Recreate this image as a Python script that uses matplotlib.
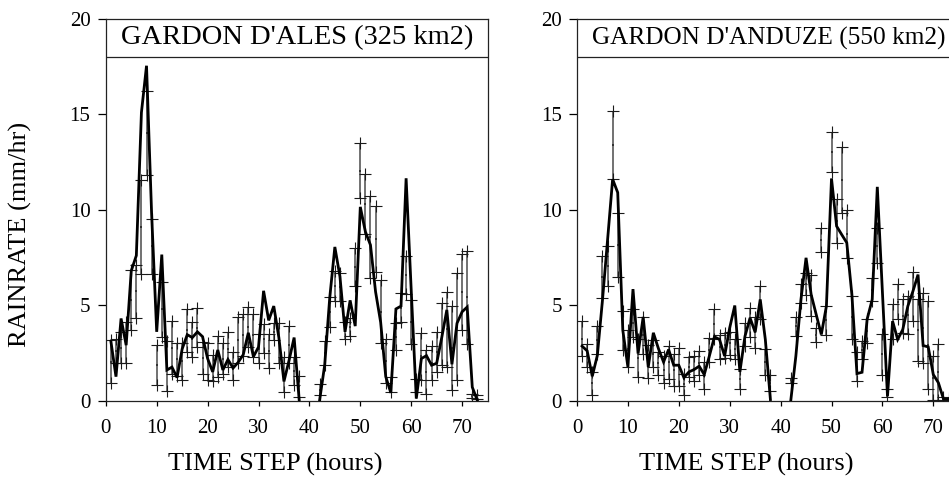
import numpy as np
import matplotlib
matplotlib.use("Agg")
import matplotlib.pyplot as plt

plt.rcParams['font.family'] = ['Liberation Serif', 'DejaVu Serif']

nan = np.nan
hours = np.arange(1, 74)

ales_title = "GARDON D'ALES (325 km2)"
anduze_title = "GARDON D'ANDUZE (550 km2)"
xlabel = "TIME STEP (hours)"
ylabel = "RAINRATE (mm/hr)"
xticks = [0, 10, 20, 30, 40, 50, 60, 70]
yticks = [0, 5, 10, 15, 20]

ales_rate = [3.1, 1.25, 4.3, 2.9, 6.8, 7.6, 15.1, 17.55, 9.8, 3.6,
             7.65, 1.6, 1.75, 1.2, 2.7, 3.45, 3.3, 3.6, 3.35, 2.2,
             1.5, 2.65, 1.6, 2.15, 1.7, 2.0, 2.4, 3.55, 2.3, 2.8,
             5.75, 4.2, 4.95, 3.3, 1.0, 2.1, 3.3, 0.0, nan, nan,
             nan, 0.0, 1.85, 5.4, 8.05, 6.5, 3.6, 5.25, 3.9, 10.15,
             8.85, 8.15, 5.7, 4.1, 1.25, 0.4, 4.8, 4.95, 11.65, 5.8,
             0.1, 2.2, 2.35, 1.85, 1.95, 3.3, 4.75, 1.9, 4.05, 4.65,
             4.9, 0.7, 0.0]
ales_low = [0.9, 1.95, 1.95, 1.95, 3.7, 4.35, 6.65, 11.8, 6.65, 0.8,
            3.35, 0.5, 1.4, 1.3, 1.1, 2.55, 2.3, 2.8, 1.4, 1.1,
            1.0, 1.25, 1.4, 1.75, 1.1, 1.95, 2.35, 2.8, 2.3, 1.95,
            2.5, 1.7, 3.15, 1.95, 0.45, 1.95, 0.8, 0.2, nan, nan,
            nan, 0.3, 1.85, 3.85, 5.2, 5.2, 3.2, 3.4, 6.0, 10.6,
            8.75, 6.4, 6.75, 3.0, 0.9, 0.45, 2.65, 4.1, 5.6, 2.95,
            0.45, 1.1, 0.35, 1.05, 1.5, 1.85, 1.75, 0.55, 1.05, 3.7,
            2.95, 0.15, 0.1]
ales_high = [3.15, 3.25, 3.6, 4.1, 6.85, 7.1, 11.55, 16.2, 9.5, 2.9,
             6.2, 3.1, 4.15, 3.0, 3.0, 4.8, 4.1, 4.85, 3.05, 3.0,
             2.4, 3.4, 3.0, 3.6, 2.55, 4.4, 4.55, 4.9, 4.55, 3.5,
             4.0, 3.5, 4.05, 4.05, 2.3, 3.9, 2.3, 1.3, nan, nan,
             nan, 0.85, 3.1, 5.4, 6.8, 6.7, 4.1, 4.3, 8.0, 13.5,
             11.9, 10.7, 10.2, 6.3, 3.25, 1.25, 4.05, 5.65, 7.6, 5.25,
             1.15, 3.55, 2.65, 2.85, 3.6, 5.1, 5.7, 4.95, 6.7, 7.7,
             7.85, 0.35, 0.3]

anduze_rate = [2.85, 2.6, 1.27, 2.37, 5.25, 8.4, 11.6, 10.9, 3.68, 1.76,
               5.84, 2.46, 4.38, 1.76, 3.55, 2.72, 2.02, 2.67, 1.85, 1.85,
               1.2, 1.5, 1.62, 1.8, 1.36, 2.33, 3.34, 3.2, 2.33, 3.81,
               4.98, 1.5, 3.37, 4.33, 3.58, 5.3, 3.2, 0.05, nan, nan,
               nan, 0.0, 2.33, 5.3, 7.48, 5.56, 4.5, 3.46, 4.95, 11.64,
               9.14, 8.7, 8.27, 5.56, 1.41, 1.48, 4.26, 5.3, 11.2, 5.7,
               0.22, 4.16, 3.2, 3.72, 4.95, 5.73, 6.6, 2.88, 2.81, 1.36,
               0.93, 0.08, 0.08]
anduze_low = [2.35, 1.75, 0.3, 2.45, 5.35, 6.0, 11.6, 6.5, 2.65, 1.75,
              3.35, 1.25, 2.45, 1.2, 1.75, 1.35, 0.9, 1.15, 0.75, 0.75,
              0.3, 1.25, 1.0, 1.35, 0.6, 2.0, 3.2, 2.2, 2.25, 2.4,
              2.2, 0.6, 2.85, 3.35, 2.75, 4.25, 1.35, 0.5, nan, nan,
              nan, 0.9, 3.4, 5.1, 5.55, 4.45, 3.05, 7.8, 3.45, 12.0,
              8.25, 9.85, 7.45, 3.25, 1.0, 2.15, 3.0, 5.2, 7.2, 1.35,
              0.2, 3.2, 4.25, 3.55, 3.5, 4.15, 2.05, 1.95, 0.6, 0.05,
              0.05, 0.05, 0.05]
anduze_high = [4.15, 2.95, 1.5, 3.9, 7.6, 8.1, 15.2, 9.85, 4.7, 3.7,
               4.8, 3.25, 4.4, 2.9, 3.15, 2.55, 2.35, 2.85, 2.45, 2.75,
               1.4, 2.3, 2.35, 2.6, 2.0, 3.3, 4.8, 3.45, 3.55, 3.6,
               3.2, 1.65, 4.05, 4.85, 4.4, 6.0, 2.7, 1.35, nan, nan,
               nan, 1.2, 4.4, 6.1, 6.7, 6.6, 3.8, 9.05, 4.95, 14.05,
               10.55, 13.3, 10.0, 5.5, 2.55, 3.1, 4.25, 6.4, 9.05, 3.5,
               0.6, 5.05, 6.1, 5.3, 5.5, 6.75, 5.3, 5.65, 5.2, 2.35,
               2.95, 0.2, 0.15]

fig = plt.figure(figsize=(9.49, 4.84), dpi=100)
W, H = 949.0, 484.0
ax_w = 381.75 / W
ax_b = (H - 400.5) / H
ax_h = 381.5 / H
ax1 = fig.add_axes([105.8 / W, ax_b, ax_w, ax_h])
ax2 = fig.add_axes([577.0 / W, ax_b, ax_w, ax_h])


def draw(ax, rate, low, high, title, title_size, show_ylabel):
    low = np.asarray(low, float)
    high = np.asarray(high, float)
    mid = (low + high) / 2.0
    ax.vlines(hours, low, high, colors='#4a4a4a', linewidth=1.1, zorder=2)
    ax.plot(hours, low, linestyle='none', marker='+', markersize=8,
            markeredgewidth=0.8, color='#1a1a1a', zorder=3)
    ax.plot(hours, high, linestyle='none', marker='+', markersize=8,
            markeredgewidth=0.8, color='#1a1a1a', zorder=3)
    ax.plot(hours, mid, linestyle='none', marker='s', markersize=1.6,
            markeredgewidth=0, color='#333333', zorder=3)
    ax.plot(hours, rate, color='black', linewidth=2.0, zorder=4,
            solid_joinstyle='miter')
    ax.set_xlim(0, 75)
    ax.set_ylim(0, 20)
    ax.set_xticks(xticks)
    ax.set_yticks(yticks)
    ax.tick_params(axis='x', direction='out', length=3.5, width=0.9,
                   labelsize=15, pad=10, color='black')
    ax.tick_params(axis='y', direction='out', length=6, width=0.9,
                   labelsize=15, pad=5, color='black')
    for s in ax.spines.values():
        s.set_linewidth(0.9)
        s.set_color('#222222')
    ax.axhline(18, color='#222222', linewidth=0.9, zorder=5)
    ax.text(37.6, 19.0, title, ha='center', va='center',
            fontsize=title_size, zorder=6)
    ax.set_xlabel(xlabel, fontsize=19)
    ax.xaxis.set_label_coords(0.443, -0.138)
    if show_ylabel:
        ax.set_ylabel(ylabel, fontsize=19)
        ax.yaxis.set_label_coords(-0.193, 0.434)


draw(ax1, ales_rate, ales_low, ales_high, ales_title, 20.5, True)
draw(ax2, anduze_rate, anduze_low, anduze_high, anduze_title, 18.2, False)

fig.savefig('out.png', dpi=100)
